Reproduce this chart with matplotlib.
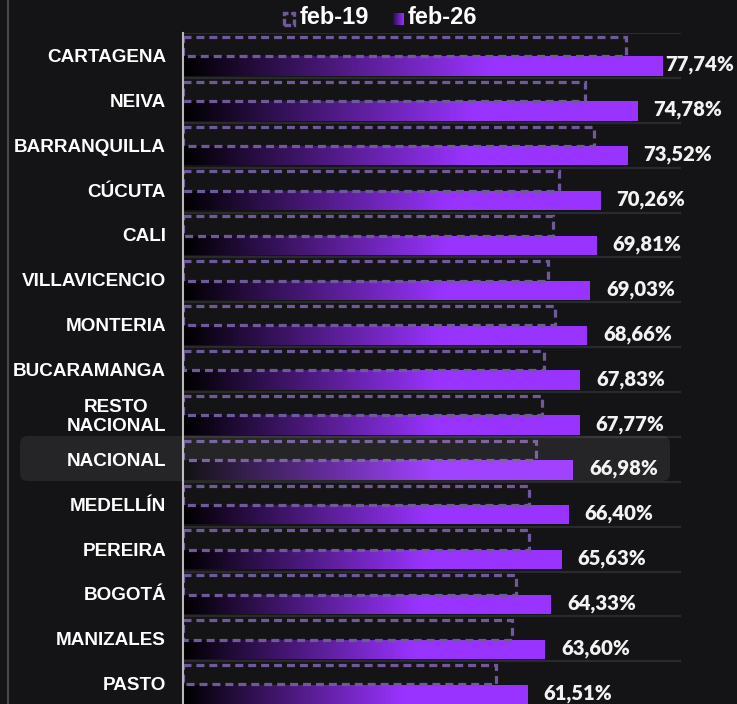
import matplotlib
matplotlib.use("Agg")
import matplotlib.pyplot as plt
import numpy as np
from matplotlib.colors import LinearSegmentedColormap
from matplotlib.patches import FancyBboxPatch, Rectangle
from matplotlib.lines import Line2D

categories = ["CARTAGENA", "NEIVA", "BARRANQUILLA", "CÚCUTA", "CALI", "VILLAVICENCIO",
              "MONTERIA", "BUCARAMANGA", "RESTO\nNACIONAL", "NACIONAL", "MEDELLÍN",
              "PEREIRA", "BOGOTÁ", "MANIZALES", "PASTO"]
feb19 = [73.4, 68.4, 69.5, 65.3, 64.6, 64.0, 64.8, 63.5, 63.3, 62.5, 61.7, 61.7, 60.1, 59.6, 57.7]
feb26 = [77.74, 74.78, 73.52, 70.26, 69.81, 69.03, 68.66, 67.83, 67.77, 66.98, 66.40, 65.63,
         64.33, 63.60, 61.51]
series_names = ["feb-19", "feb-26"]
highlight = "NACIONAL"

BG = "#141416"
PURPLE = "#9933ff"
DASH = "#70599a"
XMIN, XMAX = 20, 80

W, H = 737, 704
fig = plt.figure(figsize=(W / 100, H / 100), dpi=100, facecolor=BG)
ax_left, ax_right, ax_top = 183, 681, 33
row_px = 44.88
ax_h = row_px * len(categories)
ax = fig.add_axes([ax_left / W, (H - ax_top - ax_h) / H, (ax_right - ax_left) / W, ax_h / H])
ax.set_facecolor(BG)

cmap = LinearSegmentedColormap.from_list("g", [(0, "#000000"), (0.64, PURPLE), (1, PURPLE)])
grad = np.linspace(0, 1, 256).reshape(1, -1)

y = np.arange(len(categories))
h = 0.43
# separators
for b in np.arange(-0.5, len(categories) + 0.5, 1):
    ax.axhline(b, color="#2a2a2c", lw=1.6, zorder=1)

# feb-19 dashed outlines
ax.barh(y - 0.2, np.array(feb19) - XMIN, left=XMIN, height=h, fill=False,
        edgecolor=DASH, linewidth=2.3, linestyle=(0, (2.5, 1.55)), zorder=3)

# feb-26 gradient bars
bars = ax.barh(y + 0.235, np.array(feb26) - XMIN, left=XMIN, height=h,
               color="none", edgecolor="none", zorder=2)
for bar, v in zip(bars, feb26):
    y0 = bar.get_y()
    im = ax.imshow(grad, extent=[XMIN, v, y0 + bar.get_height(), y0], aspect="auto",
                   cmap=cmap, vmin=0, vmax=1, zorder=2, interpolation="bilinear")
    im.set_clip_path(bar)

ax.set_xlim(XMIN, XMAX)
ax.set_ylim(len(categories) - 0.5, -0.5)

# value labels
texts = []
for yi, v in zip(y, feb26):
    lbl = f"{v:.2f}".replace(".", ",") + "%"
    t = ax.annotate(lbl, (v, yi + 0.235), xytext=(16, 1), textcoords="offset pixels",
                    ha="left", va="center", color="#f2f2f2", fontsize=14.6,
                    fontfamily="Lato", fontweight="heavy", annotation_clip=False, zorder=5)
    texts.append(t)

ax.set_yticks(y)
ax.set_yticklabels(categories, fontfamily="Liberation Sans", fontweight="bold",
                   fontsize=13.6, color="white", multialignment="center", linespacing=1.08)
ax.tick_params(axis="y", length=0, pad=12.2)
ax.set_xticks([])
for s in ["top", "right", "bottom"]:
    ax.spines[s].set_visible(False)
ax.spines["left"].set_color("#b8b8b8")
ax.spines["left"].set_linewidth(1.5)
ax.spines["left"].set_zorder(6)

# highlight box
hi = categories.index(highlight)
hp = FancyBboxPatch((20 / 100, (H - 481) / 100), 650 / 100, 45 / 100,
                    boxstyle="round,pad=0,rounding_size=0.08",
                    transform=fig.dpi_scale_trans, facecolor="white", alpha=0.075,
                    edgecolor="none", zorder=2)
fig.patches.append(hp)

# left frame line
fig.add_artist(Line2D([8 / W, 8 / W], [0, 1], transform=fig.transFigure, color="#4a4a4a", lw=1.5))

# legend
ly = (H - 18) / H
fig.add_artist(Rectangle((284 / W, (H - 25) / H), 10 / W, 12 / H, transform=fig.transFigure,
                         fill=False, edgecolor=DASH, lw=2.4, linestyle=(0, (2.0, 0.8))))
fig.text(300 / W, ly, series_names[0], color="white", fontsize=17, fontweight="bold",
         fontfamily="Liberation Sans", va="center", ha="left")
lax = fig.add_axes([393 / W, (H - 25) / H, 10 / W, 12 / H])
lax.imshow(grad, aspect="auto", cmap=LinearSegmentedColormap.from_list("l", ["#2a0a50", PURPLE]))
lax.axis("off")
fig.text(408 / W, ly, series_names[1], color="white", fontsize=17, fontweight="bold",
         fontfamily="Liberation Sans", va="center", ha="left")

# clamp value labels inside figure
fig.canvas.draw()
for t in texts:
    bb = t.get_window_extent()
    if bb.x1 > W - 3:
        dx = bb.x1 - (W - 3)
        t.xyann = (16 - dx, 1)

fig.savefig("out.png", dpi=100, facecolor=BG)
